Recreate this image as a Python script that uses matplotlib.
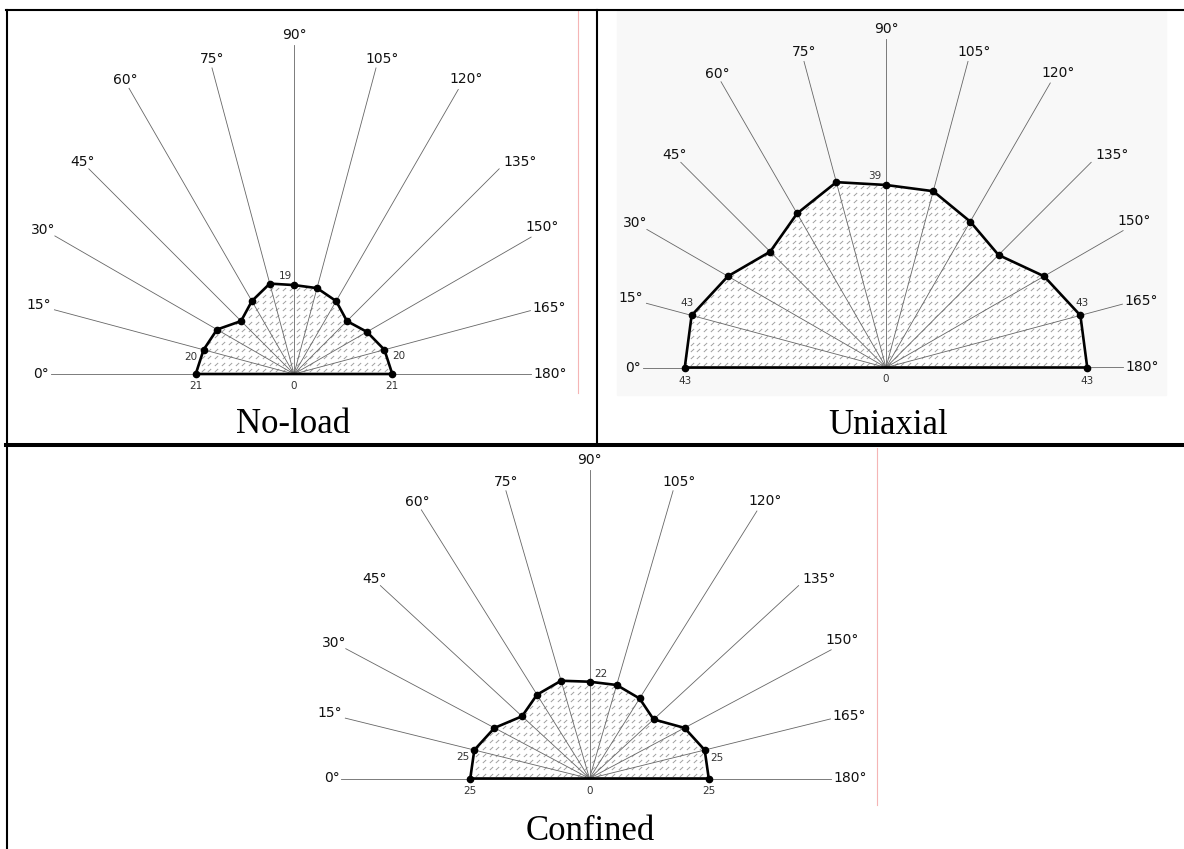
import numpy as np
import matplotlib.pyplot as plt
from matplotlib.patches import Polygon, Rectangle

W, H = 1184, 849

angles = np.arange(0, 181, 15)
angle_labels = [f"{a}°" for a in angles]

noload = [21, 20, 19, 16, 18, 20, 19, 19, 18, 16, 18, 20, 21]
uniaxial = [43, 43, 39, 35, 38, 41, 39, 39, 36, 34, 39, 43, 43]
confined = [25, 25, 23, 20, 22, 23, 22, 22, 21, 19, 23, 25, 25]
titles = ["No-load", "Uniaxial", "Confined"]

# points whose value is written beside them
tagged = [0, 1, 6, 11, 12]

# spoke length for each direction (same units as the values)
spoke_len = [52, 53, 59, 62, 70.5, 67.7, 70.2, 67.7, 70.2, 62, 58.5, 52.3, 50.7]
# angle label placement: alignment and pixel offset from the spoke tip (x right, y down)
spoke_lab = [('right', -2, 0), ('right', -3, -5), ('right', 1, -6), ('center', -6, -7),
             ('center', -4, -8), ('center', 0, -9), ('center', 0, -10), ('center', 6, -9),
             ('center', 8, -10), ('left', 4, -7), ('left', -6, -10), ('left', 2, -3),
             ('left', 2, 0)]

fig = plt.figure(figsize=(W / 100, H / 100), dpi=100)
frame = fig.add_axes([0, 0, 1, 1])
frame.set_xlim(0, W)
frame.set_ylim(H, 0)
frame.axis('off')


def panel_axes(cx, cy, sx, sy, half=62, top=76, low=8):
    left = (cx - half * sx) / W
    bottom = (H - cy - low * sy) / H
    ax = fig.add_axes([left, bottom, 2 * half * sx / W, (top + low) * sy / H])
    ax.set_xlim(-half, half)
    ax.set_ylim(-low, top)
    ax.axis('off')
    return ax


def draw_fan(ax, values, sx, sy, tag_off):
    th = np.radians(angles)
    ux, uy = -np.cos(th), np.sin(th)
    r = np.array(values, dtype=float)
    px, py = r * ux, r * uy

    poly = Polygon(np.column_stack([px, py]), closed=True, facecolor='white',
                   edgecolor='none', zorder=1)
    ax.add_patch(poly)

    # small slanted ticks filling the polygon
    gx = np.arange(-r.max(), r.max() + 1, 6.8 / sx)
    gy = np.arange(3.5 / sy, r.max() + 1, 6.8 / sy)
    mx, my = np.meshgrid(gx, gy)
    tex, = ax.plot(mx.ravel(), my.ravel(), ls='none', marker=[(-1, -0.9), (1, 0.9)],
                   ms=2.4, mew=0.7, mec='#a0a0a0', zorder=2)
    tex.set_clip_path(poly)

    for x1, y1, L, txt, (ha, dx, dy) in zip(ux, uy, spoke_len, angle_labels, spoke_lab):
        ax.plot([0, L * x1], [0, L * y1], color='#666666', lw=0.6, zorder=3)
        ax.annotate(txt, (L * x1, L * y1), xytext=(dx, -dy), textcoords='offset pixels',
                    ha=ha, va='center', fontsize=10, color='#111111',
                    annotation_clip=False)

    ax.plot(np.append(px, px[0]), np.append(py, py[0]), color='black', lw=1.9,
            zorder=4, solid_joinstyle='round')
    ax.plot(px, py, 'o', color='black', ms=4.5, zorder=5)

    for i, (dx, dy) in zip(tagged, tag_off[:-1]):
        ax.annotate(str(values[i]), (px[i], py[i]), xytext=(dx, dy),
                    textcoords='offset pixels', ha='center', va='center',
                    fontsize=7.5, color='#333333', annotation_clip=False)
    dx, dy = tag_off[-1]
    ax.annotate('0', (0, 0), xytext=(dx, dy), textcoords='offset pixels',
                ha='center', va='center', fontsize=7.5, color='#333333')


# faint scan background behind the uniaxial drawing, and stray red edges
frame.add_patch(Rectangle((617, 11), 549, 384, color='#f8f8f8', zorder=0))
frame.plot([578, 578], [11, 393], color='#f5b5b5', lw=0.8)
frame.plot([877, 877], [448, 805], color='#f5b5b5', lw=0.8)

ax1 = panel_axes(294, 374, 4.68, 4.68)
draw_fan(ax1, noload, 4.68, 4.68,
         [(0, -12), (-13, -7), (-9, 9), (14, -6), (0, -12), (0, -12)])

ax2 = panel_axes(886, 367.5, 4.68, 4.68)
draw_fan(ax2, uniaxial, 4.68, 4.68,
         [(0, -13), (-5, 12), (-11, 9), (2, 12), (0, -13), (0, -12)])

ax3 = panel_axes(589.5, 778.5, 4.77, 4.40)
draw_fan(ax3, confined, 4.77, 4.40,
         [(0, -12), (-11, -7), (11, 8), (12, -8), (0, -12), (0, -12)])

# table rules
frame.plot([6, W], [10, 10], color='black', lw=1.5)
frame.plot([6.5, 6.5], [10, H], color='black', lw=1.5)
frame.plot([597, 597], [10, 445], color='black', lw=1.5)
frame.plot([6, W], [445, 445], color='black', lw=2.9)

for (x, y), t in zip([(293, 433), (888, 434), (590, 840)], titles):
    frame.text(x, y, t, ha='center', va='baseline', family='Liberation Serif',
               fontsize=25, color='black')

fig.savefig('out.png', dpi=100)
